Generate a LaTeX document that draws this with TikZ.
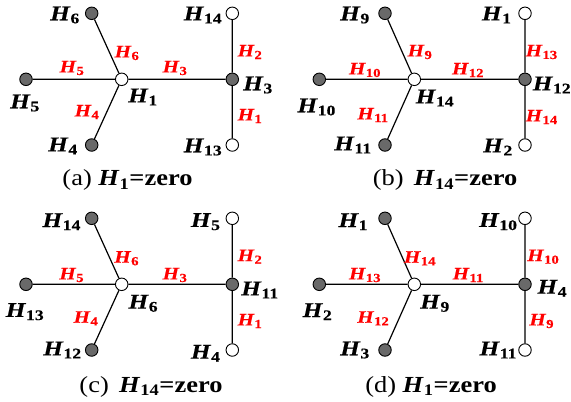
\documentclass[tikz,border=0pt]{standalone}
\usepackage{fontspec}
\setmainfont{Liberation Serif}
\newfontfamily\labfont[FakeStretch=1.2,FakeBold=0.4]{Liberation Serif}
\newfontfamily\capfont[FakeStretch=1.15]{Liberation Serif}
\definecolor{dotgray}{RGB}{105,105,105}
\definecolor{labred}{RGB}{255,0,0}
\newcommand{\Hn}[1]{\textbf{\textit{H}}\textsubscript{\textbf{#1}}}
\tikzset{
  edge/.style={line width=1.2pt},
  hub/.style={circle, draw, line width=0.9pt, minimum size=12.5pt, inner sep=0pt, fill=white},
  leaf/.style={hub, fill=dotgray},
  blk/.style={font=\labfont\fontsize{21}{21}\selectfont, inner sep=0pt},
  rlab/.style={font=\labfont\fontsize{17.5}{17.5}\selectfont, text=labred, inner sep=0pt},
  captext/.style={font=\capfont\fontsize{23}{23}\selectfont, inner sep=0pt}
}
\begin{document}
\begin{tikzpicture}[x=1pt,y=-1pt]
\useasboundingbox (0,0) rectangle (571,402);
% ---------- panel (a)
\node[hub]  (aC) at (121.7,79.3) {};
\node[leaf] (aU) at (91.7,13.3) {};
\node[leaf] (aL) at (26,79.3) {};
\node[leaf] (aD) at (91.7,145) {};
\node[leaf] (aR) at (232.3,79.3) {};
\node[hub]  (aT) at (232.3,13.3) {};
\node[hub]  (aB) at (232.3,145) {};
\draw[edge] (aC)--(aU) (aC)--(aL) (aC)--(aD) (aC)--(aR) (aR)--(aT) (aR)--(aB);
\node[blk] (aUl) at (65,15) {\Hn{6}};
\node[blk] (aLl) at (25,103) {\Hn{5}};
\node[blk] (aDl) at (63,146) {\Hn{4}};
\node[blk] (aCl) at (143,97) {\Hn{1}};
\node[blk] (aTl) at (203,15) {\Hn{14}};
\node[blk] (aRl) at (258,85) {\Hn{3}};
\node[blk] (aBl) at (203,147) {\Hn{13}};
\node[rlab] (aUe) at (127,53) {\Hn{6}};
\node[rlab] (aLe) at (72,68) {\Hn{5}};
\node[rlab] (aRe) at (175,68) {\Hn{3}};
\node[rlab] (aDe) at (87,112) {\Hn{4}};
\node[rlab] (aTe) at (250,52) {\Hn{2}};
\node[rlab] (aBe) at (250,116) {\Hn{1}};
\node[captext] (acap) at (127.5,180) {(a) \Hn{1}\textbf{=zero}};
% ---------- panel (b)
\node[hub]  (bC) at (414.3,79.3) {};
\node[leaf] (bU) at (385,13.3) {};
\node[leaf] (bL) at (319.3,79.3) {};
\node[leaf] (bD) at (385,145) {};
\node[leaf] (bR) at (525,79.3) {};
\node[hub]  (bT) at (525,13.3) {};
\node[hub]  (bB) at (525,145) {};
\draw[edge] (bC)--(bU) (bC)--(bL) (bC)--(bD) (bC)--(bR) (bR)--(bT) (bR)--(bB);
\node[blk] (bUl) at (355,15) {\Hn{9}};
\node[blk] (bLl) at (316.7,107) {\Hn{10}};
\node[blk] (bDl) at (353,145) {\Hn{11}};
\node[blk] (bCl) at (435,98) {\Hn{14}};
\node[blk] (bTl) at (496.7,15) {\Hn{1}};
\node[blk] (bRl) at (552,85) {\Hn{12}};
\node[blk] (bBl) at (498,147) {\Hn{2}};
\node[rlab] (bUe) at (420,52) {\Hn{9}};
\node[rlab] (bLe) at (365,70) {\Hn{10}};
\node[rlab] (bRe) at (468,70) {\Hn{12}};
\node[rlab] (bDe) at (373,115) {\Hn{11}};
\node[rlab] (bTe) at (541.7,52) {\Hn{13}};
\node[rlab] (bBe) at (541.7,117) {\Hn{14}};
\node[captext] (bcap) at (445,180) {(b)\hspace{0.45em}\Hn{14}\textbf{=zero}};
% ---------- panel (c)
\node[hub]  (cC) at (121.7,284.3) {};
\node[leaf] (cU) at (91.7,218.3) {};
\node[leaf] (cL) at (26,284.3) {};
\node[leaf] (cD) at (91.7,350) {};
\node[leaf] (cR) at (232.3,284.3) {};
\node[hub]  (cT) at (232.3,218.3) {};
\node[hub]  (cB) at (232.3,350) {};
\draw[edge] (cC)--(cU) (cC)--(cL) (cC)--(cD) (cC)--(cR) (cR)--(cT) (cR)--(cB);
\node[blk] (cUl) at (61.7,221.7) {\Hn{14}};
\node[blk] (cLl) at (25,311.7) {\Hn{13}};
\node[blk] (cDl) at (62.5,350) {\Hn{12}};
\node[blk] (cCl) at (143.3,303.3) {\Hn{6}};
\node[blk] (cTl) at (205.7,221.7) {\Hn{5}};
\node[blk] (cRl) at (260,290) {\Hn{11}};
\node[blk] (cBl) at (205.7,353.3) {\Hn{4}};
\node[rlab] (cUe) at (126.7,258.3) {\Hn{6}};
\node[rlab] (cLe) at (71.7,275) {\Hn{5}};
\node[rlab] (cRe) at (175,275) {\Hn{3}};
\node[rlab] (cDe) at (86,318.3) {\Hn{4}};
\node[rlab] (cTe) at (250,256.7) {\Hn{2}};
\node[rlab] (cBe) at (250,321) {\Hn{1}};
\node[captext] (ccap) at (151,386.7) {(c)\hspace{0.45em}\Hn{14}\textbf{=zero}};
% ---------- panel (d)
\node[hub]  (dC) at (414.3,284.3) {};
\node[leaf] (dU) at (385,218.3) {};
\node[leaf] (dL) at (319.3,284.3) {};
\node[leaf] (dD) at (385,350) {};
\node[leaf] (dR) at (525,284.3) {};
\node[hub]  (dT) at (525,218.3) {};
\node[hub]  (dB) at (525,350) {};
\draw[edge] (dC)--(dU) (dC)--(dL) (dC)--(dD) (dC)--(dR) (dR)--(dT) (dR)--(dB);
\node[blk] (dUl) at (353.3,221.7) {\Hn{1}};
\node[blk] (dLl) at (317.5,311.7) {\Hn{2}};
\node[blk] (dDl) at (355,350) {\Hn{3}};
\node[blk] (dCl) at (435,303.3) {\Hn{9}};
\node[blk] (dTl) at (498.3,221.7) {\Hn{10}};
\node[blk] (dRl) at (552.3,288.3) {\Hn{4}};
\node[blk] (dBl) at (498.3,350) {\Hn{11}};
\node[rlab] (dUe) at (420,258.3) {\Hn{14}};
\node[rlab] (dLe) at (365,275) {\Hn{13}};
\node[rlab] (dRe) at (468.3,275) {\Hn{11}};
\node[rlab] (dDe) at (373.3,318.3) {\Hn{12}};
\node[rlab] (dTe) at (543.3,256.7) {\Hn{10}};
\node[rlab] (dBe) at (541.7,321) {\Hn{9}};
\node[captext] (dcap) at (431,386.7) {(d) \Hn{1}\textbf{=zero}};
\end{tikzpicture}
\end{document}
